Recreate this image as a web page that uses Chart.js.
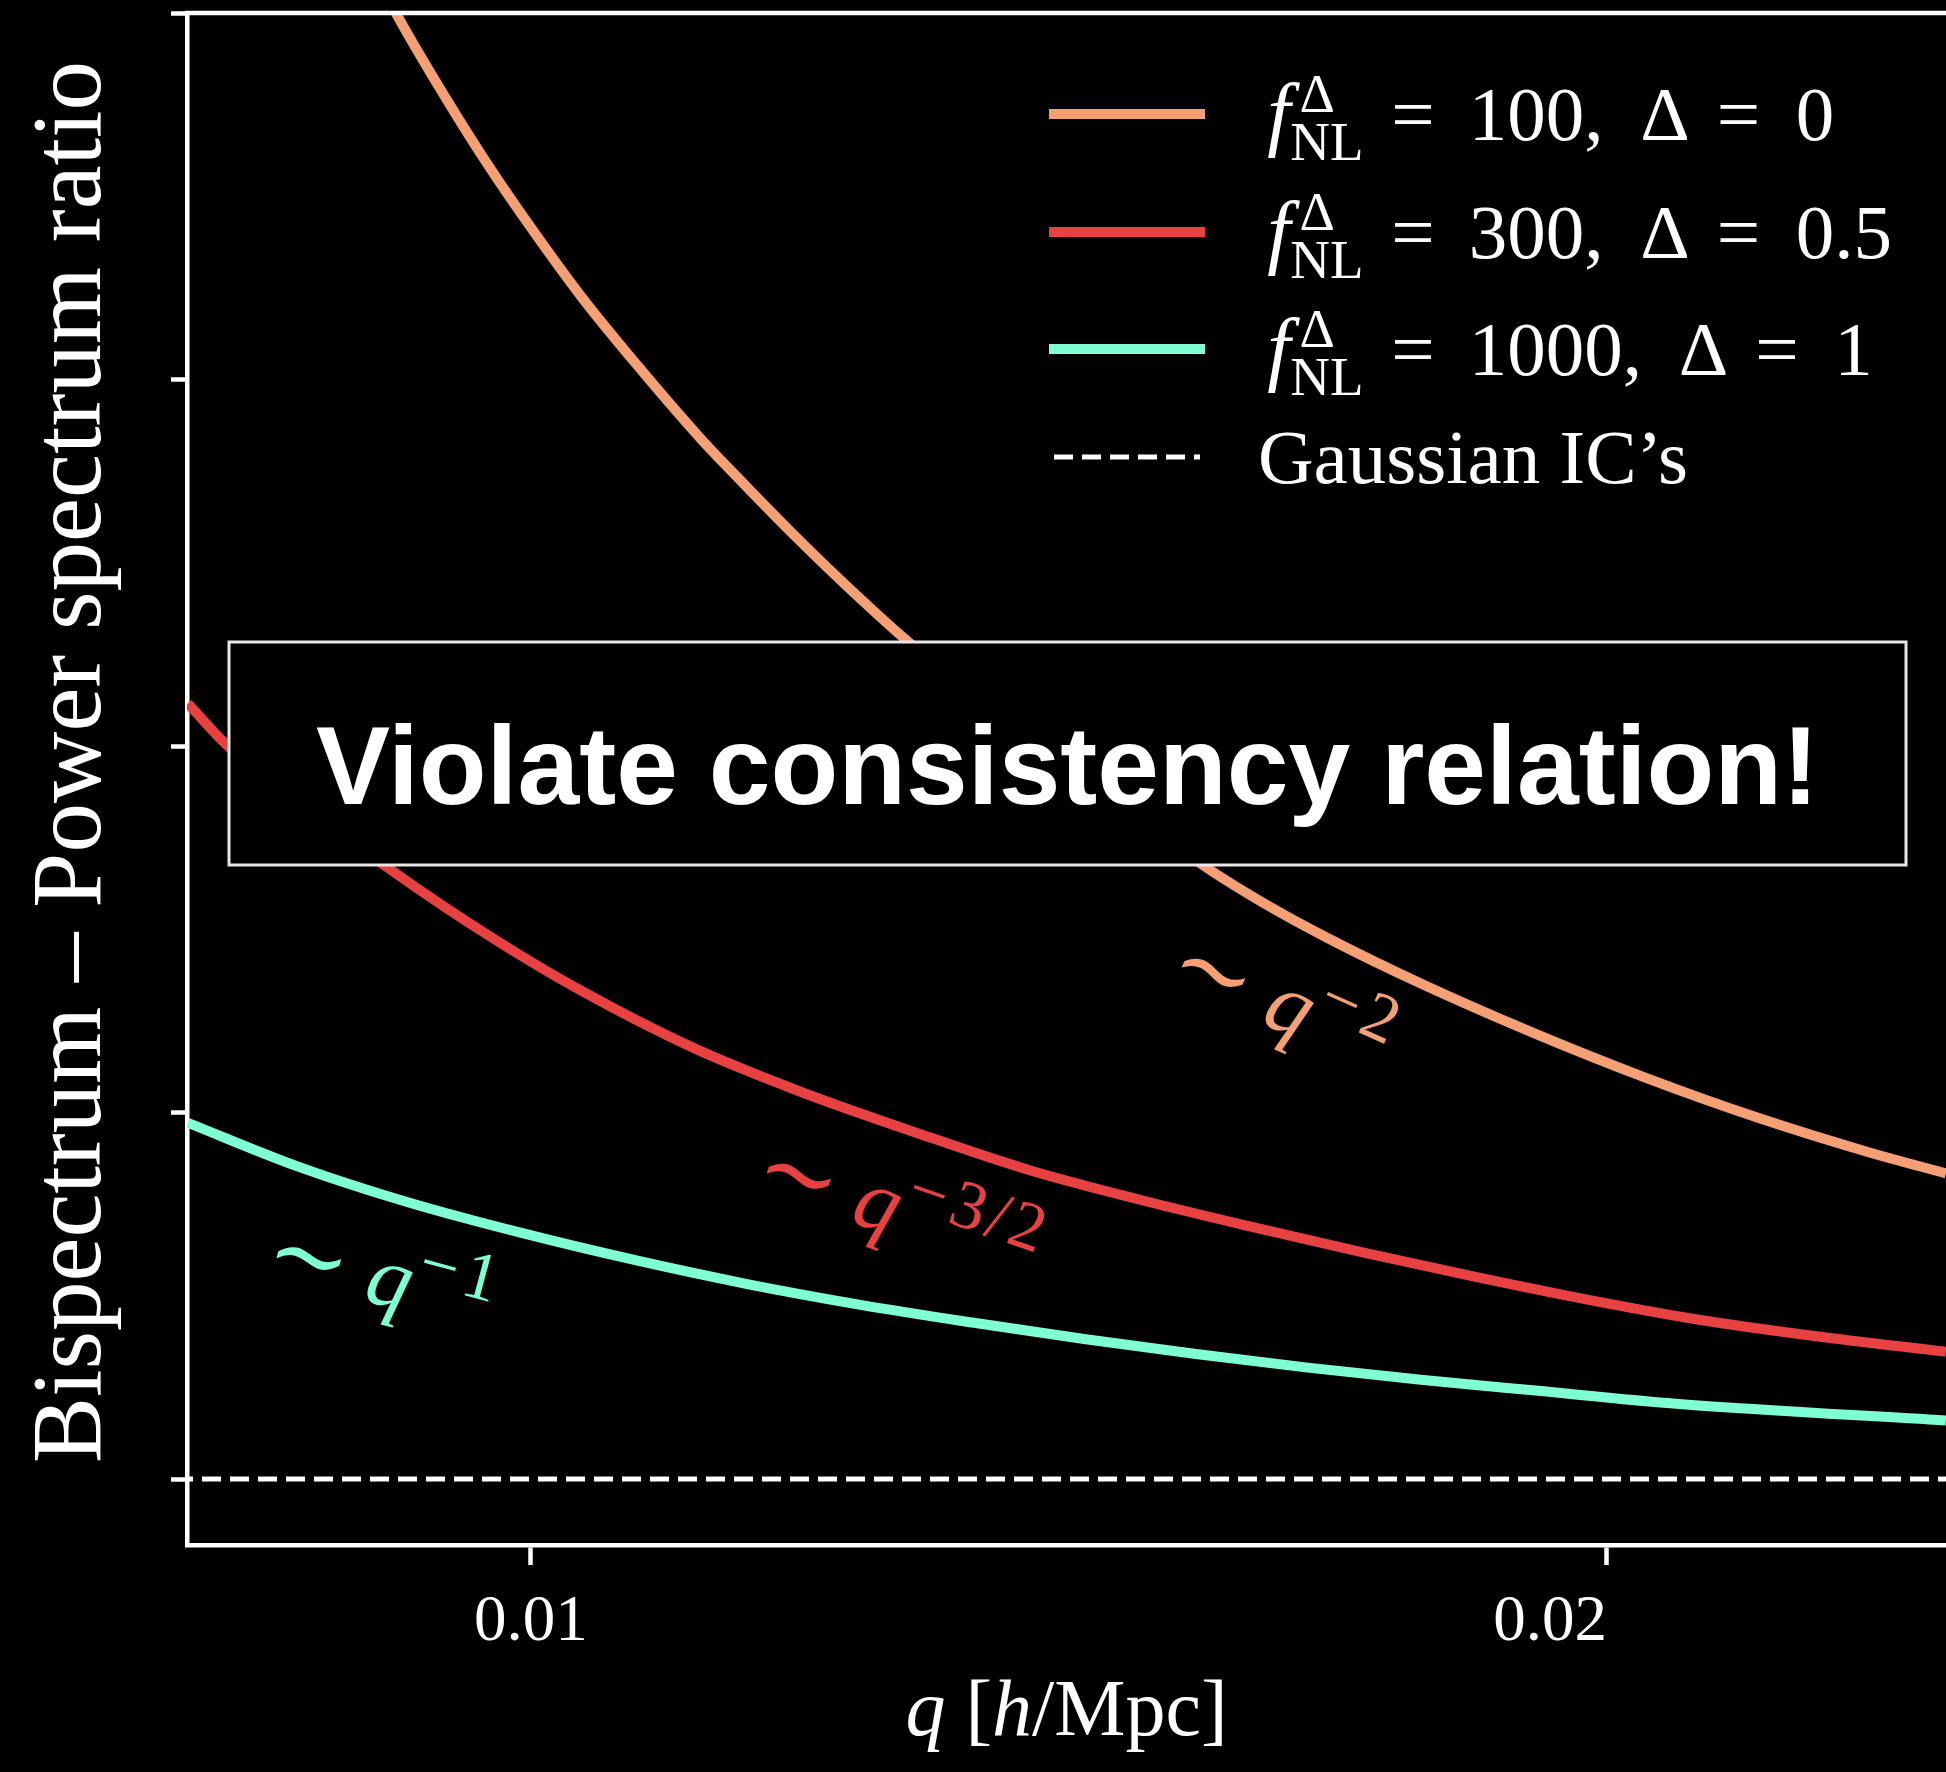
<!DOCTYPE html>
<html>
<head>
<meta charset="utf-8">
<script src="https://cdn.jsdelivr.net/npm/chart.js@4.4.1/dist/chart.umd.min.js"></script>
<style>
  html, body { margin: 0; padding: 0; background: #000; }
  canvas { display: block; }
</style>
</head>
<body>
<canvas id="chart" width="1946" height="1772"></canvas>
<script>
// ---------- data ----------
const xTickValues = [0.01, 0.02];
const xTickLabels = ['0.01', '0.02'];
const yTickValues = [0, 1, 2, 3, 4];

const qOrange = [0.00860, 0.00875, 0.00921, 0.00959, 0.01001, 0.01046, 0.01099, 0.01157, 0.01191, 0.01243, 0.01305, 0.01352, 0.01624, 0.01680, 0.01743, 0.01827, 0.01931, 0.02035, 0.02139, 0.02244, 0.02315];
const vOrange = [4.083, 3.997, 3.767, 3.590, 3.410, 3.229, 3.038, 2.841, 2.736, 2.580, 2.405, 2.281, 1.676, 1.573, 1.472, 1.352, 1.218, 1.096, 0.987, 0.891, 0.834];

const qRed = [0.00681, 0.00719, 0.00867, 0.00967, 0.01045, 0.01149, 0.01253, 0.01358, 0.01462, 0.01566, 0.01670, 0.01775, 0.01879, 0.01983, 0.02087, 0.02191, 0.02315];
const vRed = [2.116, 1.998, 1.668, 1.471, 1.335, 1.179, 1.054, 0.945, 0.844, 0.762, 0.688, 0.617, 0.551, 0.489, 0.434, 0.391, 0.347];

const qTeal = [0.00681, 0.00783, 0.00888, 0.00993, 0.01097, 0.01201, 0.01305, 0.01410, 0.01514, 0.01618, 0.01722, 0.01827, 0.01931, 0.02067, 0.02315];
const vTeal = [0.972, 0.853, 0.753, 0.670, 0.597, 0.532, 0.476, 0.427, 0.382, 0.341, 0.304, 0.271, 0.242, 0.205, 0.160];

const gaussianQ = [0.006803, 0.023151];
const gaussianV = [0, 0];

const fnlValues = ['100', '300', '1000'];
const deltaValues = ['0', '0.5', '1'];
const slopeExponents = ['2', '3/2', '1'];
const gaussianLabel = "Gaussian IC\u2019s";
const boxText = 'Violate consistency relation!';
const yTitle = 'Bispectrum \u2013 Power spectrum ratio';
const xTitleParts = [['q', true], [' ', false], ['[', false], ['h', true], ['/Mpc]', false]];

// ---------- styling ----------
const X_MIN = 0.006803, X_MAX = 0.023151, Y_MIN = -0.18, Y_MAX = 4.0;
const ORANGE = '#F4A074', RED = '#E84142', TEAL = '#7FFFD4';
const SERIF = "'Liberation Serif', 'DejaVu Serif', serif";
const SANS = "'Liberation Sans', Arial, sans-serif";

function pts(qs, vs) { return qs.map((q, i) => ({ x: q, y: vs[i] })); }

const curveStyle = { borderWidth: 10, pointRadius: 0, cubicInterpolationMode: 'monotone', fill: false, clip: 0 };

const overlayPlugin = {
  id: 'overlay',
  beforeDraw(chart) {
    const c = chart.ctx;
    c.save(); c.fillStyle = '#000'; c.fillRect(0, 0, chart.width, chart.height); c.restore();
  },
  afterDraw(chart) {
    const ctx = chart.ctx, ca = chart.chartArea, xs = chart.scales.x, ys = chart.scales.y;
    ctx.save();
    // top spine
    ctx.strokeStyle = '#fff'; ctx.lineWidth = 4.5; ctx.setLineDash([]);
    ctx.beginPath(); ctx.moveTo(ca.left - 2.25, ca.top); ctx.lineTo(ca.right, ca.top); ctx.stroke();

    // slope annotations (anchored at the tilde centre, in data coordinates)
    const ann = [
      { q: 0.01632, v: 1.365, ang: 24, color: ORANGE, exp: slopeExponents[0] },
      { q: 0.01247, v: 0.810, ang: 19, color: RED, exp: slopeExponents[1] },
      { q: 0.00792, v: 0.585, ang: 15, color: TEAL, exp: slopeExponents[2] }
    ];
    ann.forEach(a => {
      const F = 88, S = 69, T = 100;
      ctx.save();
      ctx.translate(xs.getPixelForValue(a.q), ys.getPixelForValue(a.v));
      ctx.rotate(a.ang * Math.PI / 180);
      ctx.fillStyle = a.color; ctx.textBaseline = 'alphabetic';
      ctx.font = `${T}px ${SERIF}`; ctx.textAlign = 'center';
      ctx.fillText('\u223C', 0, 25);
      ctx.textAlign = 'left';
      ctx.font = `italic ${F}px ${SERIF}`;
      ctx.fillText('q', 62, 20);
      ctx.font = `${S}px ${SERIF}`;
      let x = 109;
      ctx.fillText('\u2212', x, -11);
      x += ctx.measureText('\u2212').width + 6;
      for (const ch of a.exp) { ctx.fillText(ch, x, -11); x += ctx.measureText(ch).width + 4; }
      ctx.restore();
    });

    // "Violate consistency relation!" box
    const bx0 = 229, by0 = 642, bx1 = 1906, by1 = 865;
    ctx.fillStyle = '#000'; ctx.fillRect(bx0, by0, bx1 - bx0, by1 - by0);
    ctx.strokeStyle = '#e8e8e8'; ctx.lineWidth = 3; ctx.strokeRect(bx0, by0, bx1 - bx0, by1 - by0);
    ctx.fillStyle = '#fff'; ctx.font = `bold 111px ${SANS}`; ctx.textAlign = 'center'; ctx.textBaseline = 'alphabetic';
    ctx.fillText(boxText, (bx0 + bx1) / 2, 804);

    // legend
    const rows = [114, 232, 349, 457];
    const lx0 = 1054, lx1 = 1200, textX = 1258, F = 77, SUB = 55;
    chart.data.datasets.forEach((ds, i) => {
      const y = rows[i];
      ctx.strokeStyle = ds.borderColor; ctx.lineWidth = ds.borderWidth;
      ctx.setLineDash(ds.borderDash || []); ctx.lineDashOffset = 0;
      ctx.lineCap = ds.borderDash ? 'butt' : 'square';
      ctx.beginPath(); ctx.moveTo(lx0, y); ctx.lineTo(lx1, y); ctx.stroke();
      ctx.setLineDash([]); ctx.lineCap = 'butt';
      ctx.fillStyle = '#fff'; ctx.textAlign = 'left'; ctx.textBaseline = 'alphabetic';
      const base = y + 26;
      if (i < 3) {
        let x = textX + 0.12 * F;
        ctx.font = `italic ${F + 6}px ${SERIF}`; ctx.fillText('f', x, base);
        x += ctx.measureText('f').width;
        ctx.font = `${SUB}px ${SERIF}`;
        ctx.fillText('\u0394', x + 0.12 * F, base - 0.37 * F);
        ctx.fillText('NL', x, base + 0.26 * F);
        const subEnd = x + ctx.measureText('NL').width;
        x = subEnd + 0.36 * F;
        ctx.font = `${F}px ${SERIF}`;
        const toks = [['=', 0.44], [fnlValues[i] + ',', 0.48], ['\u0394', 0.35], ['=', 0.46], [deltaValues[i], 0]];
        toks.forEach(([t, g]) => { ctx.fillText(t, x, base); x += ctx.measureText(t).width + g * F; });
      } else {
        ctx.font = `${F}px ${SERIF}`; ctx.fillText(gaussianLabel, textX, base);
      }
    });

    // x-axis title
    {
      const F2 = 80; let total = 0;
      xTitleParts.forEach(([t, it]) => { ctx.font = `${it ? 'italic ' : ''}${F2}px ${SERIF}`; total += ctx.measureText(t).width; });
      let x = (ca.left + ca.right) / 2 - total / 2; const base = ca.bottom + 190;
      xTitleParts.forEach(([t, it]) => { ctx.font = `${it ? 'italic ' : ''}${F2}px ${SERIF}`; ctx.fillText(t, x, base); x += ctx.measureText(t).width; });
    }
    // y-axis title
    ctx.save();
    ctx.translate(100, 762); ctx.rotate(-Math.PI / 2);
    ctx.font = `99px ${SERIF}`; ctx.textAlign = 'center'; ctx.textBaseline = 'alphabetic';
    ctx.fillText(yTitle, 0, 0);
    ctx.restore();
    ctx.restore();
  }
};

new Chart(document.getElementById('chart'), {
  type: 'line',
  data: {
    datasets: [
      Object.assign({ label: 'f_NL^\u0394 = 100, \u0394 = 0', data: pts(qOrange, vOrange), borderColor: ORANGE }, curveStyle),
      Object.assign({ label: 'f_NL^\u0394 = 300, \u0394 = 0.5', data: pts(qRed, vRed), borderColor: RED }, curveStyle),
      Object.assign({ label: 'f_NL^\u0394 = 1000, \u0394 = 1', data: pts(qTeal, vTeal), borderColor: TEAL }, curveStyle),
      { label: gaussianLabel, data: pts(gaussianQ, gaussianV), borderColor: '#ffffff', borderWidth: 5,
        borderDash: [19, 9], borderDashOffset: 13, pointRadius: 0, fill: false, clip: 0 }
    ]
  },
  options: {
    responsive: false,
    animation: false,
    devicePixelRatio: 1,
    events: [],
    layout: { padding: { top: 13, right: 0, bottom: 0, left: 0 } },
    plugins: { legend: { display: false }, tooltip: { enabled: false }, title: { display: false } },
    scales: {
      x: {
        type: 'linear', min: X_MIN, max: X_MAX, offset: false,
        afterFit: s => { s.height = 227; },
        afterBuildTicks: s => { s.ticks = xTickValues.map(v => ({ value: v })); },
        ticks: {
          autoSkip: false, maxRotation: 0, color: '#fff', padding: 19,
          font: { family: SERIF, size: 65 },
          callback: (v, i) => i === 1 ? xTickLabels[i] + '\u2007\u2007\u2007 ' : xTickLabels[i]
        },
        grid: { display: true, drawOnChartArea: false, drawTicks: true, tickLength: 20, tickWidth: 4.5, tickColor: '#fff' },
        border: { display: true, color: '#fff', width: 4.5 }
      },
      y: {
        type: 'linear', min: Y_MIN, max: Y_MAX,
        afterFit: s => { s.width = 187; },
        afterBuildTicks: s => { s.ticks = yTickValues.map(v => ({ value: v })); },
        ticks: { display: false },
        grid: { display: true, drawOnChartArea: false, drawTicks: true, tickLength: 16, tickWidth: 4.5, tickColor: '#fff' },
        border: { display: true, color: '#fff', width: 4.5 }
      }
    }
  },
  plugins: [overlayPlugin]
});
</script>
</body>
</html>
